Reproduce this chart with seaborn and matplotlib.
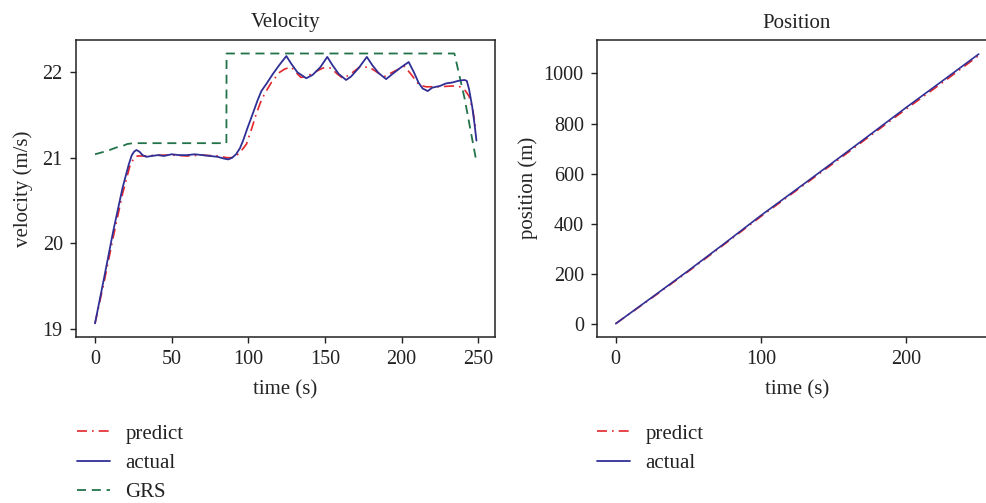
import matplotlib
matplotlib.use("Agg")
import matplotlib.pyplot as plt
import seaborn as sns
import pandas as pd
from matplotlib.lines import Line2D

# --- velocity data (m/s) ---
t_actual = [0, 6, 12, 18, 22, 24, 25.5, 27, 29, 31, 33.5, 37, 41, 45, 50, 55, 60, 65, 70, 75, 80,
            84, 87, 89.5, 92, 94.5, 96.6, 99.5, 103, 106, 108.5, 112, 116, 120, 124.8, 128,
            132, 137.8, 142, 147, 151.5, 155, 159, 163.8, 167, 172, 177.3, 181, 185, 189.9,
            194, 199, 204.6, 208, 211, 213.7, 217, 220, 225, 229, 233, 237, 240.9, 242.5,
            244, 246, 247.5, 248.8]
v_actual = [19.06, 19.6, 20.15, 20.65, 20.92, 21.03, 21.07, 21.09, 21.07, 21.03, 21.01, 21.02,
            21.03, 21.02, 21.04, 21.03, 21.03, 21.04, 21.03, 21.02, 21.01, 20.99, 20.98, 21.0,
            21.04, 21.11, 21.2, 21.35, 21.52, 21.67, 21.78, 21.87, 21.98, 22.08, 22.19, 22.1,
            22.0, 21.93, 21.97, 22.06, 22.18, 22.08, 21.98, 21.91, 21.95, 22.05, 22.18, 22.08,
            21.99, 21.92, 21.98, 22.05, 22.12, 22.0, 21.88, 21.81, 21.78, 21.82, 21.84, 21.87,
            21.88, 21.9, 21.91, 21.9, 21.8, 21.6, 21.4, 21.2]

t_predict = [0, 6, 12, 18, 23, 26, 28, 32, 40, 50, 60, 70, 80, 86, 89, 92, 95, 98.8, 102,
             105.3, 108, 110.7, 115, 120.4, 124, 128, 131, 134.3, 138, 143, 148.7, 154,
             158, 161.7, 166, 172.5, 179, 184, 188.8, 194, 201.8, 206, 211.5, 216, 225,
             233, 238, 240.9, 244, 246.5, 248.5]
v_predict = [19.06, 19.55, 20.08, 20.58, 20.92, 21.01, 21.02, 21.02, 21.03, 21.03, 21.02, 21.03,
             21.02, 21.0, 21.0, 21.02, 21.07, 21.16, 21.33, 21.52, 21.65, 21.75, 21.88, 22.0,
             22.04, 22.06, 22.0, 21.94, 21.95, 22.0, 22.05, 22.05, 21.98, 21.93, 21.97, 22.06,
             22.06, 22.0, 21.95, 22.0, 22.07, 21.98, 21.85, 21.83, 21.83, 21.84, 21.83, 21.8,
             21.72, 21.55, 21.32]

t_grs = [0, 8, 14, 18.4, 21, 24.9, 40, 60, 85.7, 85.8, 110, 150, 200, 234.4, 241, 248.5]
v_grs = [21.04, 21.08, 21.12, 21.14, 21.16, 21.17, 21.17, 21.17, 21.17, 22.22, 22.22, 22.22,
         22.22, 22.22, 21.7, 20.98]

# --- position data (m) ---
t_pos = [0, 25, 50, 75, 100, 125, 150, 175, 200, 225, 250]
p_actual = [3, 108, 214, 323, 434, 540, 647, 755, 864, 970, 1077]
p_predict = [3, 106, 211, 320, 430, 536, 642, 750, 858, 963, 1071]

RED = "#e3262b"
BLUE = "#2f2f96"
GREEN = "#22734a"
DASHDOT = (6, 3, 1, 3)
DASHED = (5, 3.2)
FS_LABEL = 15
FS_TICK = 14.5

sns.set_style("ticks")
plt.rcParams["font.family"] = ["Liberation Serif", "DejaVu Serif"]
plt.rcParams["axes.edgecolor"] = "#222222"
plt.rcParams["axes.linewidth"] = 1.1
plt.rcParams["text.color"] = "#222222"

fig = plt.figure(figsize=(9.86, 5.03), dpi=100)
ax1 = fig.add_axes([76 / 986, 1 - 336.7 / 503, 419 / 986, 296.7 / 503])
ax2 = fig.add_axes([597 / 986, 1 - 336.7 / 503, 400 / 986, 296.7 / 503])

vel_pred = pd.DataFrame({"t": t_predict, "v": v_predict})
vel_act = pd.DataFrame({"t": t_actual, "v": v_actual})
vel_grs = pd.DataFrame({"t": t_grs, "v": v_grs})

sns.lineplot(data=vel_grs, x="t", y="v", ax=ax1, color=GREEN, lw=1.3,
             sort=False, estimator=None).lines[-1].set_dashes(DASHED)
sns.lineplot(data=vel_pred, x="t", y="v", ax=ax1, color=RED, lw=1.2,
             sort=False, estimator=None).lines[-1].set_dashes(DASHDOT)
sns.lineplot(data=vel_act, x="t", y="v", ax=ax1, color=BLUE, lw=1.3,
             sort=False, estimator=None)

ax1.set_xlim(-12.4, 260.9)
ax1.set_ylim(18.904, 22.378)
ax1.set_xticks([0, 50, 100, 150, 200, 250])
ax1.set_yticks([19, 20, 21, 22])
ax1.set_xlabel("time (s)", fontsize=FS_LABEL, labelpad=8)
ax1.set_ylabel("velocity (m/s)", fontsize=FS_LABEL, labelpad=7)
ax1.set_title("Velocity", fontsize=FS_LABEL, pad=9)

pos = pd.DataFrame({"t": t_pos, "actual": p_actual, "predict": p_predict})
sns.lineplot(data=pos, x="t", y="predict", ax=ax2, color=RED, lw=1.2,
             estimator=None).lines[-1].set_dashes(DASHDOT)
sns.lineplot(data=pos, x="t", y="actual", ax=ax2, color=BLUE, lw=1.2, estimator=None)

ax2.set_xlim(-12.9, 262.6)
ax2.set_ylim(-49, 1133)
ax2.set_xticks([0, 100, 200])
ax2.set_yticks([0, 200, 400, 600, 800, 1000])
ax2.set_xlabel("time (s)", fontsize=FS_LABEL, labelpad=8)
ax2.set_ylabel("position (m)", fontsize=FS_LABEL, labelpad=4)
ax2.set_title("Position", fontsize=FS_LABEL, pad=9)

for ax in (ax1, ax2):
    ax.tick_params(labelsize=FS_TICK, length=4.5, width=1.0, pad=5, colors="#222222")
    for s in ax.spines.values():
        s.set_visible(True)

h_pred = Line2D([], [], color=RED, lw=1.2, dashes=DASHDOT)
h_act = Line2D([], [], color=BLUE, lw=1.3)
h_grs = Line2D([], [], color=GREEN, lw=1.3, dashes=DASHED)

legend_kw = dict(loc="upper left", frameon=False, fontsize=FS_LABEL, handlelength=1.6,
                 handletextpad=0.72, labelspacing=0.47, borderpad=0, borderaxespad=0)
fig.legend([h_pred, h_act, h_grs], ["predict", "actual", "GRS"],
           bbox_to_anchor=(77 / 986, 1 - 424 / 503), **legend_kw)
fig.legend([h_pred, h_act], ["predict", "actual"],
           bbox_to_anchor=(597 / 986, 1 - 424 / 503), **legend_kw)

fig.savefig("out.png", dpi=100)
